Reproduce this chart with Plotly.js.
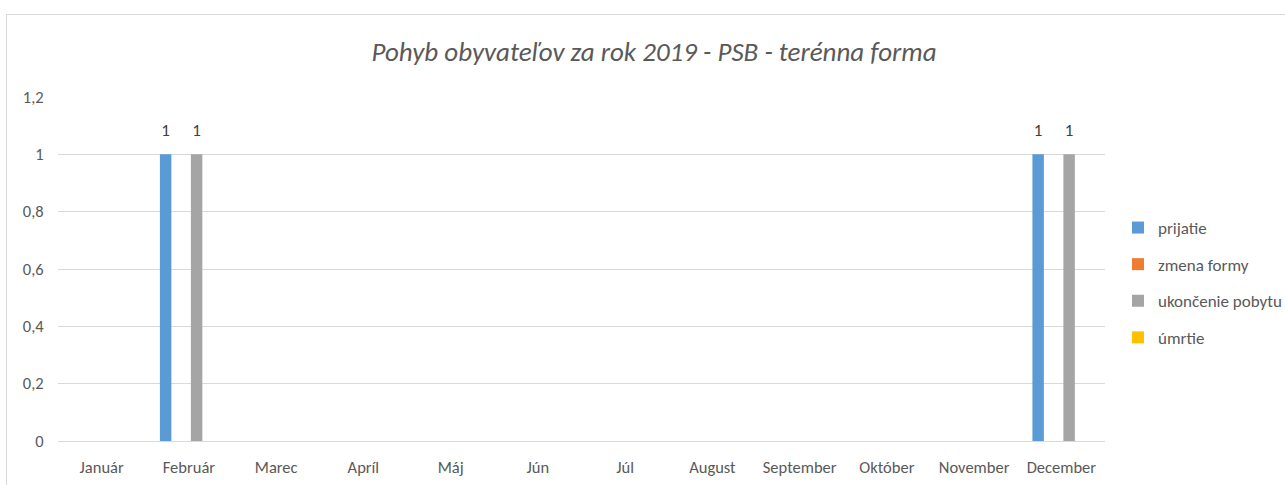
<!DOCTYPE html>
<html>
<head>
<meta charset="utf-8">
<script src="https://cdn.plot.ly/plotly-3.0.1.min.js"></script>
<style>
html,body{margin:0;padding:0;background:#fff;overflow:hidden;}
#wrap{position:relative;width:1285px;height:485px;}
#frame{position:absolute;left:6px;top:14px;width:1300px;height:500px;border:1px solid #d9d9d9;box-sizing:border-box;pointer-events:none;z-index:5;}
#chart{position:absolute;left:0;top:0;width:1285px;height:485px;}
</style>
</head>
<body>
<div id="wrap"><div id="chart"></div><div id="frame"></div></div>
<script>
const months = ["Január","Február","Marec","Apríl","Máj","Jún","Júl","August","September","Október","November","December"];
const seriesNames = ["prijatie","zmena formy","ukončenie pobytu","úmrtie"];
const prijatie        = [0,1,0,0,0,0,0,0,0,0,0,1];
const zmenaFormy      = [0,0,0,0,0,0,0,0,0,0,0,0];
const ukoncenie       = [0,1,0,0,0,0,0,0,0,0,0,1];
const umrtie          = [0,0,0,0,0,0,0,0,0,0,0,0];
const colors = ["#5b9bd5","#ed7d31","#a5a5a5","#ffc000"];
const FONT = "Carlito, 'Liberation Sans Narrow', Lato, 'Open Sans', sans-serif";

const allValues = [prijatie, zmenaFormy, ukoncenie, umrtie];
const barTraces = allValues.map((vals, i) => ({
  type: 'bar',
  name: seriesNames[i],
  x: months,
  y: vals,
  marker: {color: colors[i]},
  legendgroup: 'g' + i,
  hoverinfo: 'x+y+name'
}));
// data labels: transparent copies on a slightly shifted overlaying axis
const labelTraces = allValues.map((vals, i) => ({
  type: 'bar',
  name: seriesNames[i],
  x: months,
  y: vals,
  yaxis: 'y2',
  marker: {color: 'rgba(0,0,0,0)'},
  text: vals.map(v => v ? String(v) : ''),
  textposition: 'outside',
  textfont: {family: FONT, size: 17, color: '#404040'},
  cliponaxis: false,
  showlegend: false,
  hoverinfo: 'skip'
}));

const layout = {
  width: 1285, height: 485,
  paper_bgcolor: '#ffffff', plot_bgcolor: '#ffffff',
  separators: ', ',
  margin: {l: 58, r: 180, t: 97, b: 44},
  font: {family: FONT, color: '#595959', size: 16},
  title: {
    text: '<i>Pohyb obyvateľov za rok 2019 - PSB - terénna forma</i>',
    font: {family: FONT, size: 27, color: '#595959'},
    x: 0.509, xanchor: 'center', xref: 'container',
    y: 1 - 52/485, yanchor: 'middle', yref: 'container'
  },
  barmode: 'group',
  bargap: 0.29,
  bargroupgap: 0.26,
  xaxis: {
    type: 'category',
    showgrid: false,
    showline: true, linecolor: '#d9d9d9', linewidth: 1,
    ticks: 'outside', ticklen: 11, tickcolor: 'rgba(0,0,0,0)',
    tickfont: {family: FONT, size: 16.5, color: '#595959'},
    zeroline: false, fixedrange: true
  },
  yaxis: {
    range: [0, 1.2],
    tickvals: [0,0.2,0.4,0.6,0.8,1,1.2],
    ticktext: ['0','0,2','0,4','0,6','0,8','1','1,2'],
    showgrid: true, gridcolor: '#d9d9d9', gridwidth: 1,
    zeroline: false, showline: false,
    ticks: 'outside', ticklen: 10, tickcolor: 'rgba(0,0,0,0)',
    tickfont: {family: FONT, size: 16.5, color: '#595959'},
    fixedrange: true
  },
  yaxis2: {
    overlaying: 'y',
    range: [-0.035, 1.165],
    visible: false, showgrid: false, zeroline: false, fixedrange: true
  },
  showlegend: true,
  legend: {
    xref: 'container', yref: 'container',
    x: 1118/1285, xanchor: 'left',
    y: 1 - 210/485, yanchor: 'top',
    traceorder: 'grouped',
    tracegroupgap: 11.5,
    font: {family: FONT, size: 17, color: '#595959'},
    itemwidth: 30,
    bgcolor: 'rgba(0,0,0,0)'
  }
};

Plotly.newPlot('chart', barTraces.concat(labelTraces), layout, {displayModeBar: false, staticPlot: true});
</script>
</body>
</html>
